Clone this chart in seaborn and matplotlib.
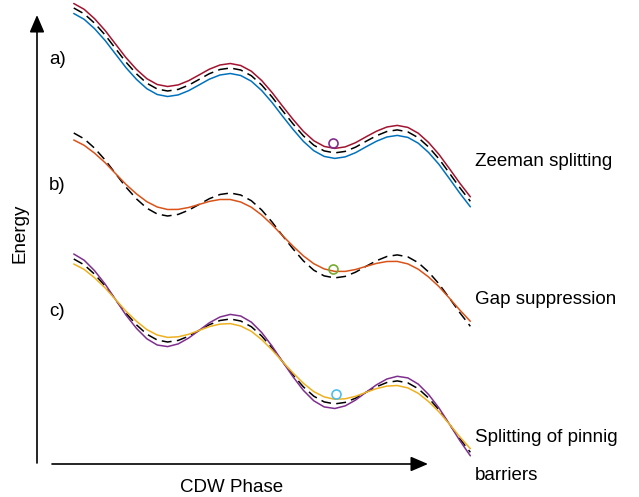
import matplotlib
matplotlib.use('Agg')
import matplotlib.pyplot as plt
import seaborn as sns

# CDW phase (rad) sample points
phase = [-1.57, -1.18, -0.79, -0.39, 0.00, 0.39, 0.79, 1.18, 1.57, 1.96,
         2.36, 2.75, 3.14, 3.53, 3.93, 4.32, 4.71, 5.11, 5.50, 5.89,
         6.28, 6.68, 7.07, 7.46, 7.85, 8.25, 8.64, 9.03, 9.42, 9.82,
         10.21, 10.60, 11.00, 11.39, 11.78, 12.17, 12.57, 12.96, 13.35]

# a) Zeeman splitting
a_ref = [489.0, 483.2, 473.9, 462.0, 448.5, 435.0, 423.1, 413.8, 408.0, 406.0,
         407.6, 411.8, 417.5, 423.3, 427.5, 429.0, 427.0, 421.3, 412.0, 400.0,
         386.5, 373.1, 361.1, 351.8, 346.1, 344.1, 345.6, 349.8, 355.6, 361.3,
         365.5, 367.1, 365.1, 359.3, 350.0, 338.1, 323.6, 309.1, 295.7]
a_up = [493.5, 487.7, 478.4, 466.5, 453.0, 439.5, 427.6, 418.3, 412.5, 410.5,
        412.1, 416.3, 422.0, 427.8, 432.0, 433.5, 431.5, 425.8, 416.5, 404.5,
        391.0, 377.6, 365.6, 356.3, 350.6, 348.6, 350.1, 354.3, 360.1, 365.8,
        370.0, 371.6, 369.6, 363.8, 354.5, 342.6, 328.1, 313.6, 300.2]
a_down = [483.5, 477.7, 468.4, 456.5, 443.0, 429.5, 417.6, 408.3, 402.5, 400.5,
          402.1, 406.3, 412.0, 417.8, 422.0, 423.5, 421.5, 415.8, 406.5, 394.5,
          381.0, 367.6, 355.6, 346.3, 340.6, 338.6, 340.1, 344.3, 350.1, 355.8,
          360.0, 361.6, 359.6, 353.8, 344.5, 332.6, 318.1, 303.6, 290.2]

# b) Gap suppression
b_ref = [364.0, 358.2, 348.9, 337.0, 323.5, 310.0, 298.1, 288.8, 283.0, 281.0,
         282.6, 286.8, 292.5, 298.3, 302.5, 304.0, 302.0, 296.3, 287.0, 275.0,
         261.5, 248.1, 236.1, 226.8, 221.1, 219.1, 220.6, 224.8, 230.6, 236.3,
         240.5, 242.1, 240.1, 234.3, 225.0, 213.1, 198.6, 184.1, 170.7]
b_gap = [357.0, 351.7, 343.9, 334.3, 323.5, 312.7, 303.1, 295.3, 290.0, 287.5,
         287.6, 289.5, 292.5, 295.6, 297.5, 297.5, 295.0, 289.8, 282.0, 272.3,
         261.5, 250.8, 241.1, 233.3, 228.1, 225.6, 225.6, 227.5, 230.6, 233.6,
         235.5, 235.6, 233.1, 227.8, 220.0, 210.4, 198.6, 186.8, 175.7]

# c) Splitting of pinning barriers
c_ref = [238.0, 232.2, 222.9, 211.0, 197.5, 184.0, 172.1, 162.8, 157.0, 155.0,
         156.6, 160.8, 166.5, 172.3, 176.5, 178.0, 176.0, 170.3, 161.0, 149.0,
         135.5, 122.1, 110.1, 100.8, 95.1, 93.1, 94.6, 98.8, 104.6, 110.3,
         114.5, 116.1, 114.1, 108.3, 99.0, 87.1, 72.6, 58.1, 44.7]
c_high = [243.0, 236.8, 226.4, 212.9, 197.5, 182.1, 168.6, 158.2, 152.0, 150.4,
          153.1, 158.9, 166.5, 174.2, 180.0, 182.6, 181.0, 174.9, 164.5, 150.9,
          135.5, 120.2, 106.6, 96.2, 90.1, 88.5, 91.1, 96.9, 104.6, 112.2,
          118.0, 120.7, 119.1, 112.9, 102.5, 89.0, 72.6, 56.2, 41.2]
c_low = [233.0, 227.6, 219.3, 209.1, 197.5, 185.9, 175.7, 167.4, 162.0, 159.6,
         160.2, 162.7, 166.5, 170.4, 172.9, 173.4, 171.0, 165.7, 157.4, 147.1,
         135.5, 124.0, 113.7, 105.4, 100.1, 97.7, 98.2, 100.7, 104.6, 108.4,
         110.9, 111.5, 109.1, 103.7, 95.4, 85.2, 72.6, 60.0, 48.3]

# CDW "ball" positions (phase, energy)
balls_x = [8.18, 8.18, 8.30]
balls_y = [354, 228, 103]
ball_colors = ['#7E2F8E', '#77AC30', '#4DBEEE']

labels = ['Zeeman splitting', 'Gap suppression', 'Splitting of pinnig', 'barriers']

sns.set_style('white')
plt.rcParams['font.family'] = ['Liberation Sans', 'DejaVu Sans']
plt.rcParams['text.color'] = 'black'

fig = plt.figure(figsize=(6.39, 4.97), dpi=100)
ax = fig.add_axes([0, 0, 1, 1])

dash = (0, (6.5, 3.5))
lw = 1.1
sns.lineplot(x=phase, y=a_up, color='#A2142F', lw=lw, ax=ax)
sns.lineplot(x=phase, y=a_down, color='#0072BD', lw=lw, ax=ax)
sns.lineplot(x=phase, y=a_ref, color='black', lw=lw, linestyle=dash, ax=ax)

sns.lineplot(x=phase, y=b_ref, color='black', lw=lw, linestyle=dash, ax=ax)
sns.lineplot(x=phase, y=b_gap, color='#D95319', lw=lw, ax=ax)

sns.lineplot(x=phase, y=c_ref, color='black', lw=lw, linestyle=dash, ax=ax)
sns.lineplot(x=phase, y=c_high, color='#7E2F8E', lw=lw, ax=ax)
sns.lineplot(x=phase, y=c_low, color='#EDB120', lw=lw, ax=ax)

for bx, by, bc in zip(balls_x, balls_y, ball_colors):
    ax.plot(bx, by, 'o', mfc='none', mec=bc, ms=6.5, mew=1.2)

ax.set_xlim(-4.345, 19.695)
ax.set_ylim(0, 497)
ax.axis('off')

# axis arrows (figure fraction)
W, H = 639, 497
arrow = dict(arrowstyle='-|>,head_length=0.7,head_width=0.3', color='black',
             lw=1.2, mutation_scale=15, shrinkA=0, shrinkB=0)
fig.add_artist(matplotlib.patches.FancyArrowPatch(
    (37 / W, 1 - 463 / H), (37 / W, 1 - 15 / H), transform=fig.transFigure, **arrow))
fig.add_artist(matplotlib.patches.FancyArrowPatch(
    (52 / W, 1 - 464 / H), (428 / W, 1 - 464 / H), transform=fig.transFigure, **arrow))

fs = 13.5
fig.text(20 / W, 1 - 233 / H, 'Energy', rotation=90, ha='center', va='center', fontsize=fs)
fig.text(232 / W, 1 - 492 / H, 'CDW Phase', ha='center', va='baseline', fontsize=fs)
fig.text(49 / W, 1 - 60 / H, 'a)', ha='left', va='center', fontsize=fs)
fig.text(49 / W, 1 - 186 / H, 'b)', ha='left', va='center', fontsize=fs)
fig.text(49 / W, 1 - 311 / H, 'c)', ha='left', va='center', fontsize=fs)
for txt, yb in zip(labels, [166, 304, 442, 480]):
    fig.text(475 / W, 1 - yb / H, txt, ha='left', va='baseline', fontsize=fs)

fig.savefig('out.png', dpi=100, facecolor='white')
